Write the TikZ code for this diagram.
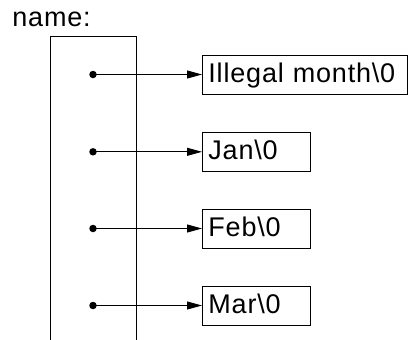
\documentclass[tikz,border=0pt]{standalone}
\usepackage{fontspec}
\setmainfont[LetterSpace=3]{Liberation Sans}
\usetikzlibrary{arrows.meta}

\tikzset{
  strbox/.style={draw, anchor=west, align=left, inner xsep=6pt, inner ysep=0pt,
    minimum height=39pt, text height=19.3pt, text depth=4pt},
  ptr/.style={circle, fill, inner sep=0pt, minimum size=7.5pt},
  arr/.style={-{Triangle[length=15pt,width=8pt]}}
}

\begin{document}
\begin{tikzpicture}[x=1pt,y=-1pt,line width=0.9pt]

\fontsize{27pt}{30pt}\selectfont

\useasboundingbox (0,0) rectangle (408,340);

\node [anchor=base west, inner sep=0pt] (title) at (12,27) {name:};

\draw (50,340) -- (50,36) -- (136,36) -- (136,340);

\node [strbox, text width=193pt] (s0) at (202,74.5) {Illegal month\textbackslash 0};
\node [strbox, text width=96pt] (s1) at (202,151.8) {Jan\textbackslash 0};
\node [strbox, text width=96pt] (s2) at (202,228.5) {Feb\textbackslash 0};
\node [strbox, text width=96pt] (s3) at (202,305.5) {Mar\textbackslash 0};

\node [ptr] (p0) at (93,74.5) {};
\node [ptr] (p1) at (93,151.8) {};
\node [ptr] (p2) at (93,228.5) {};
\node [ptr] (p3) at (93,305.5) {};

\draw [arr] (p0.center) -- (s0.west);
\draw [arr] (p1.center) -- (s1.west);
\draw [arr] (p2.center) -- (s2.west);
\draw [arr] (p3.center) -- (s3.west);

\end{tikzpicture}
\end{document}
